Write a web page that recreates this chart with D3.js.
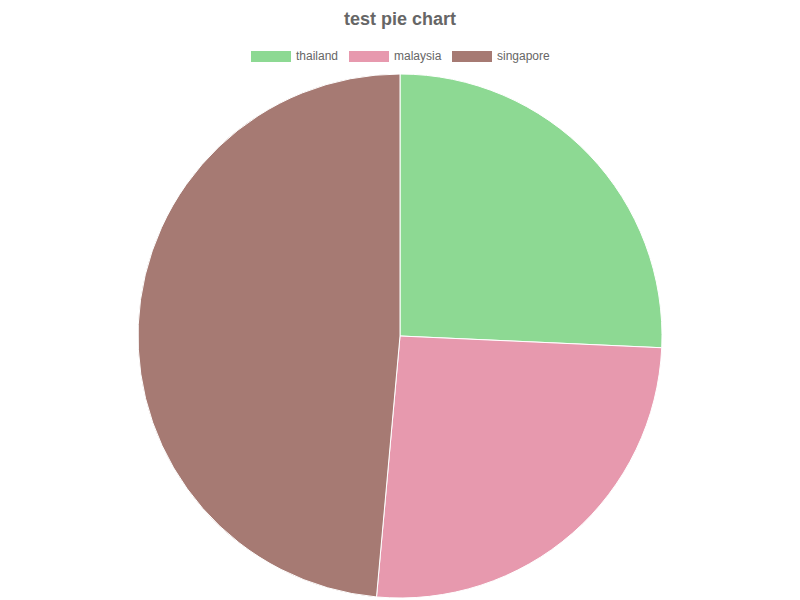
<!DOCTYPE html>
<html><head><meta charset="utf-8">
<script src="https://cdn.jsdelivr.net/npm/d3@7"></script>
<style>body{margin:0;background:#fff;}</style>
</head><body>
<svg id="c" width="800" height="600"></svg>
<script>
const categories = ["thailand", "malaysia", "singapore"];
const values = [18, 18, 34];
const colors = ["#8dd993", "#e799ae", "#a67a73"];
const title = "test pie chart";

const svg = d3.select("#c");
const font = "'Helvetica Neue', Helvetica, Arial, 'Liberation Sans', sans-serif";
svg.append("text").attr("x", 400).attr("y", 19).attr("text-anchor", "middle")
  .attr("dominant-baseline", "central")
  .attr("font-family", font).attr("font-size", 18).attr("font-weight", "bold")
  .attr("fill", "#666").text(title);

// legend
const legendX = [251, 349, 452];
const lg = svg.append("g");
categories.forEach((c, i) => {
  lg.append("rect").attr("x", legendX[i]).attr("y", 51).attr("width", 40).attr("height", 11)
    .attr("fill", colors[i]);
  lg.append("text").attr("x", legendX[i] + 45).attr("y", 56).attr("dominant-baseline", "central")
    .attr("font-family", font).attr("font-size", 12).attr("fill", "#666").text(c);
});

const pie = d3.pie().sort(null).value(d => d);
const arc = d3.arc().innerRadius(0).outerRadius(262);
const g = svg.append("g").attr("transform", "translate(400,336)");
g.selectAll("path").data(pie(values)).join("path")
  .attr("d", arc).attr("fill", (d, i) => colors[i])
  .attr("stroke", "#fff").attr("stroke-width", 1);
</script>
</body></html>
